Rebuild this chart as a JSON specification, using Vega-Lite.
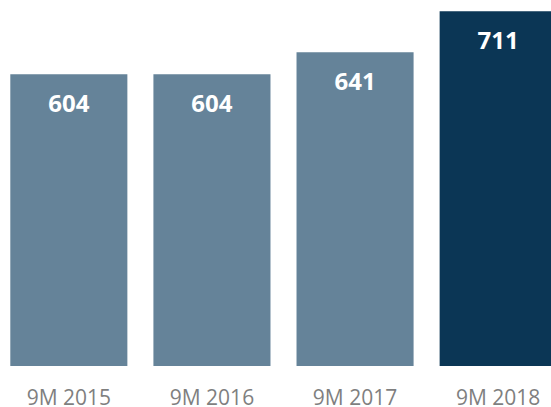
{
  "$schema": "https://vega.github.io/schema/vega-lite/v6.json",
  "width": 551,
  "height": 366,
  "autosize": "none",
  "padding": {"left": 0, "top": 0, "right": 0, "bottom": 41},
  "background": "white",
  "config": {"view": {"stroke": null}, "font": "Open Sans"},
  "data": {"values": [
    {"period": "9M 2015", "value": 604, "highlight": "no"},
    {"period": "9M 2016", "value": 604, "highlight": "no"},
    {"period": "9M 2017", "value": 641, "highlight": "no"},
    {"period": "9M 2018", "value": 711, "highlight": "yes"}
  ]},
  "encoding": {
    "x": {
      "field": "period", "type": "nominal", "sort": null,
      "scale": {"range": [0, 567], "paddingInner": 0.182, "paddingOuter": 0.072},
      "axis": {"title": null, "domain": false, "ticks": false, "labelAngle": 0,
               "labelFont": "Open Sans", "labelFontSize": 21, "labelColor": "#7f7f7f",
               "labelBaseline": "alphabetic", "labelPadding": 38.5}
    },
    "y": {
      "field": "value", "type": "quantitative",
      "scale": {"domain": [108, 730], "zero": false, "nice": false},
      "axis": null
    }
  },
  "layer": [
    {
      "mark": {"type": "bar", "clip": true},
      "encoding": {
        "color": {"field": "highlight", "type": "nominal",
                  "scale": {"domain": ["no", "yes"], "range": ["#658399", "#0b3655"]},
                  "legend": null}
      }
    },
    {
      "mark": {"type": "text", "color": "white", "fontWeight": "bold", "fontSize": 24,
               "font": "Open Sans", "baseline": "alphabetic", "dy": 37.7},
      "encoding": {"text": {"field": "value", "type": "quantitative"}}
    }
  ]
}
